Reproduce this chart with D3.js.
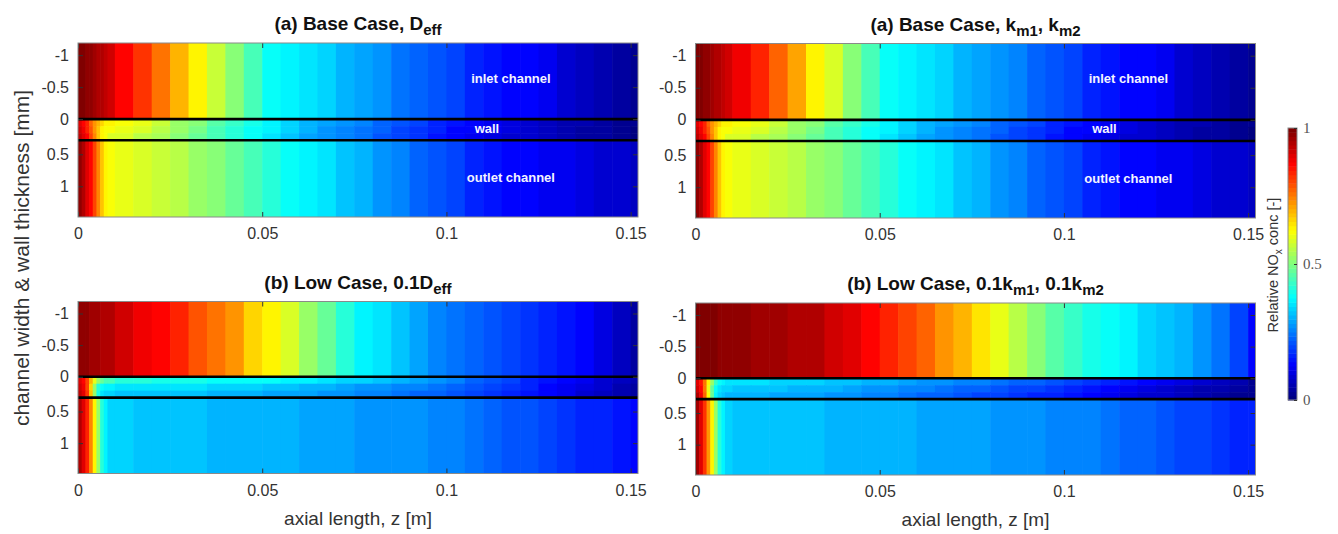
<!DOCTYPE html>
<html>
<head>
<meta charset="utf-8">
<script src="https://cdn.jsdelivr.net/npm/d3@7"></script>
<style>
  body { margin: 0; background: #fff; }
  text { font-family: "Liberation Sans", Arial, Helvetica, sans-serif; }
  .title { font-size: 19px; font-weight: bold; fill: #111; }
  .tick text { font-size: 16px; fill: #333; }
  .tick line { stroke: #333; }
  .cbar .tick text { font-family: "Liberation Serif", "Times New Roman", serif; font-size: 15px; fill: #555; }
  .axis-label { font-size: 19px; fill: #333; }
  .note { font-size: 13px; font-weight: bold; fill: #f4f4ff; }
</style>
</head>
<body>
<div id="chart"></div>
<script>
// ---------------- Data ----------------
// axial grid (cell edges, m): fine near the inlet, 5 mm further down
var zEdges = [0, 0.001, 0.002, 0.003, 0.004, 0.005, 0.006, 0.007, 0.008, 0.01,
  0.015, 0.02, 0.025, 0.03, 0.035, 0.04, 0.045, 0.05, 0.055, 0.06, 0.065, 0.07,
  0.075, 0.08, 0.085, 0.09, 0.095, 0.1, 0.105, 0.11, 0.115, 0.12, 0.125, 0.13,
  0.135, 0.14, 0.145, 0.15, 0.152];
// transverse bands (mm): inlet | wall (3 layers) | outlet
var yEdges = [-1.19, 0, 0.11, 0.22, 0.33, 1.53];
var wallLines = [0, 0.33];

var xTicks = [0, 0.05, 0.1, 0.15];
var xTickLabels = ["0", "0.05", "0.1", "0.15"];
var yTicks = [-1, -0.5, 0, 0.55, 1.05];
var yTickLabels = ["-1", "-0.5", "0", "0.5", "1"];
var cbTicks = [0, 0.5, 1];
var cbTickLabels = ["0", "0.5", "1"];

var noteText = ["inlet channel", "wall", "outlet channel"];
var noteZ = [0.1175, 0.111, 0.1175];
var noteY = [-0.64, 0.14, 0.92];

// (a) Base case, Deff
var baseD_inlet = [1.0, 0.99, 0.98, 0.97, 0.96, 0.95, 0.94, 0.93, 0.91, 0.87, 0.82, 0.76, 0.70, 0.63, 0.57, 0.50, 0.44, 0.38, 0.36, 0.345, 0.33, 0.31, 0.29, 0.27, 0.245, 0.23, 0.21, 0.19, 0.17, 0.155, 0.14, 0.125, 0.11, 0.09, 0.07, 0.05, 0.035, 0.02];
var baseD_wallTop = [0.9, 0.87, 0.83, 0.78, 0.73, 0.69, 0.66, 0.64, 0.63, 0.62, 0.6, 0.57, 0.53, 0.5, 0.46, 0.43, 0.4, 0.37, 0.34, 0.31, 0.29, 0.27, 0.25, 0.23, 0.21, 0.19, 0.17, 0.15, 0.13, 0.12, 0.1, 0.09, 0.075, 0.06, 0.05, 0.04, 0.03, 0.02];
var baseD_wallMid = [0.91, 0.88, 0.84, 0.79, 0.73, 0.68, 0.64, 0.62, 0.61, 0.6, 0.58, 0.55, 0.52, 0.49, 0.45, 0.42, 0.39, 0.36, 0.33, 0.3, 0.28, 0.26, 0.24, 0.22, 0.2, 0.18, 0.16, 0.14, 0.125, 0.11, 0.095, 0.08, 0.07, 0.055, 0.045, 0.035, 0.025, 0.015];
var baseD_wallBot = [0.93, 0.9, 0.86, 0.8, 0.74, 0.68, 0.64, 0.61, 0.59, 0.58, 0.56, 0.54, 0.51, 0.48, 0.44, 0.41, 0.38, 0.35, 0.32, 0.295, 0.275, 0.255, 0.235, 0.215, 0.195, 0.175, 0.155, 0.135, 0.12, 0.105, 0.09, 0.08, 0.065, 0.055, 0.045, 0.035, 0.025, 0.015];
var baseD_outlet = [0.97, 0.94, 0.9, 0.86, 0.8, 0.74, 0.68, 0.63, 0.62, 0.6, 0.58, 0.565, 0.55, 0.53, 0.51, 0.48, 0.45, 0.41, 0.38, 0.36, 0.345, 0.32, 0.3, 0.27, 0.25, 0.23, 0.21, 0.19, 0.17, 0.155, 0.14, 0.13, 0.12, 0.11, 0.1, 0.09, 0.08, 0.075];

// (a) Base case, km1, km2
var baseK_inlet = [1.0, 0.99, 0.98, 0.97, 0.96, 0.95, 0.94, 0.93, 0.915, 0.88, 0.83, 0.77, 0.71, 0.64, 0.58, 0.51, 0.45, 0.39, 0.36, 0.345, 0.33, 0.31, 0.29, 0.27, 0.25, 0.23, 0.21, 0.19, 0.17, 0.155, 0.14, 0.125, 0.11, 0.09, 0.07, 0.05, 0.035, 0.02];
var baseK_wallTop = [0.9, 0.87, 0.83, 0.78, 0.73, 0.69, 0.66, 0.64, 0.63, 0.62, 0.6, 0.57, 0.53, 0.5, 0.46, 0.43, 0.4, 0.37, 0.34, 0.31, 0.29, 0.27, 0.25, 0.23, 0.21, 0.19, 0.17, 0.15, 0.13, 0.12, 0.1, 0.09, 0.075, 0.06, 0.05, 0.04, 0.03, 0.02];
var baseK_wallMid = [0.91, 0.88, 0.84, 0.79, 0.73, 0.68, 0.64, 0.62, 0.61, 0.6, 0.58, 0.55, 0.52, 0.49, 0.45, 0.42, 0.39, 0.36, 0.33, 0.3, 0.28, 0.26, 0.24, 0.22, 0.2, 0.18, 0.16, 0.14, 0.125, 0.11, 0.095, 0.08, 0.07, 0.055, 0.045, 0.035, 0.025, 0.015];
var baseK_wallBot = [0.93, 0.9, 0.86, 0.8, 0.74, 0.68, 0.64, 0.61, 0.59, 0.58, 0.56, 0.54, 0.51, 0.48, 0.44, 0.41, 0.38, 0.35, 0.32, 0.295, 0.275, 0.255, 0.235, 0.215, 0.195, 0.175, 0.155, 0.135, 0.12, 0.105, 0.09, 0.08, 0.065, 0.055, 0.045, 0.035, 0.025, 0.015];
var baseK_outlet = [0.97, 0.94, 0.9, 0.86, 0.8, 0.74, 0.68, 0.63, 0.62, 0.6, 0.58, 0.565, 0.55, 0.53, 0.51, 0.48, 0.45, 0.41, 0.38, 0.36, 0.345, 0.32, 0.3, 0.27, 0.25, 0.23, 0.21, 0.19, 0.17, 0.155, 0.14, 0.13, 0.12, 0.11, 0.1, 0.09, 0.08, 0.075];

// (b) Low case, 0.1 Deff
var lowD_inlet = [0.98, 0.975, 0.97, 0.965, 0.96, 0.955, 0.95, 0.945, 0.94, 0.92, 0.89, 0.86, 0.83, 0.79, 0.76, 0.72, 0.67, 0.63, 0.58, 0.52, 0.47, 0.41, 0.37, 0.345, 0.315, 0.285, 0.26, 0.24, 0.22, 0.205, 0.19, 0.175, 0.16, 0.145, 0.125, 0.1, 0.07, 0.04];
var lowD_wallTop = [0.9, 0.87, 0.8, 0.7, 0.6, 0.52, 0.47, 0.45, 0.44, 0.42, 0.41, 0.4, 0.4, 0.395, 0.39, 0.385, 0.38, 0.375, 0.37, 0.36, 0.35, 0.34, 0.33, 0.315, 0.3, 0.285, 0.27, 0.25, 0.23, 0.21, 0.19, 0.17, 0.15, 0.13, 0.11, 0.09, 0.07, 0.05];
var lowD_wallMid = [0.92, 0.89, 0.8, 0.66, 0.52, 0.42, 0.38, 0.365, 0.36, 0.355, 0.35, 0.35, 0.345, 0.345, 0.34, 0.335, 0.33, 0.325, 0.32, 0.31, 0.3, 0.29, 0.28, 0.27, 0.26, 0.25, 0.24, 0.225, 0.21, 0.195, 0.18, 0.16, 0.14, 0.12, 0.1, 0.08, 0.06, 0.04];
var lowD_wallBot = [0.93, 0.9, 0.82, 0.68, 0.52, 0.4, 0.35, 0.335, 0.33, 0.325, 0.32, 0.32, 0.315, 0.315, 0.31, 0.305, 0.3, 0.295, 0.29, 0.285, 0.28, 0.27, 0.26, 0.25, 0.24, 0.23, 0.22, 0.205, 0.19, 0.175, 0.16, 0.145, 0.13, 0.11, 0.09, 0.075, 0.06, 0.045];
var lowD_outlet = [0.95, 0.9, 0.84, 0.74, 0.64, 0.52, 0.42, 0.36, 0.34, 0.33, 0.325, 0.32, 0.32, 0.315, 0.31, 0.31, 0.305, 0.3, 0.3, 0.295, 0.29, 0.285, 0.28, 0.275, 0.27, 0.27, 0.26, 0.25, 0.24, 0.225, 0.215, 0.205, 0.195, 0.18, 0.17, 0.16, 0.145, 0.135];

// (b) Low case, 0.1 km1, 0.1 km2
var lowK_inlet = [1.0, 0.995, 0.99, 0.99, 0.985, 0.985, 0.98, 0.98, 0.98, 0.97, 0.965, 0.955, 0.945, 0.94, 0.92, 0.9, 0.87, 0.84, 0.8, 0.77, 0.73, 0.69, 0.65, 0.6, 0.55, 0.5, 0.46, 0.43, 0.4, 0.38, 0.36, 0.34, 0.32, 0.3, 0.28, 0.24, 0.19, 0.14];
var lowK_wallTop = [0.9, 0.85, 0.76, 0.64, 0.52, 0.43, 0.38, 0.36, 0.355, 0.35, 0.345, 0.34, 0.335, 0.33, 0.325, 0.32, 0.31, 0.3, 0.29, 0.28, 0.27, 0.26, 0.25, 0.24, 0.23, 0.22, 0.205, 0.19, 0.175, 0.16, 0.145, 0.13, 0.115, 0.1, 0.085, 0.07, 0.05, 0.03];
var lowK_wallMid = [0.92, 0.86, 0.75, 0.6, 0.47, 0.38, 0.345, 0.335, 0.33, 0.325, 0.32, 0.315, 0.31, 0.305, 0.3, 0.29, 0.28, 0.27, 0.26, 0.25, 0.24, 0.23, 0.22, 0.21, 0.2, 0.19, 0.175, 0.16, 0.145, 0.13, 0.115, 0.1, 0.09, 0.075, 0.06, 0.05, 0.035, 0.02];
var lowK_wallBot = [0.94, 0.88, 0.77, 0.62, 0.48, 0.37, 0.33, 0.315, 0.31, 0.305, 0.3, 0.295, 0.29, 0.285, 0.28, 0.27, 0.26, 0.25, 0.24, 0.23, 0.22, 0.21, 0.2, 0.19, 0.18, 0.17, 0.16, 0.145, 0.13, 0.12, 0.105, 0.09, 0.08, 0.065, 0.055, 0.045, 0.03, 0.02];
var lowK_outlet = [0.96, 0.9, 0.82, 0.72, 0.63, 0.52, 0.42, 0.36, 0.335, 0.325, 0.32, 0.32, 0.315, 0.315, 0.31, 0.31, 0.305, 0.3, 0.3, 0.295, 0.29, 0.29, 0.285, 0.28, 0.275, 0.27, 0.265, 0.26, 0.25, 0.24, 0.23, 0.22, 0.21, 0.2, 0.19, 0.18, 0.17, 0.165];

// titles: plain text and subscripts
var titleBaseD = [["(a) Base Case, D", 0], ["eff", 1]];
var titleBaseK = [["(a) Base Case, k", 0], ["m1", 1], [", k", 0], ["m2", 1]];
var titleLowD = [["(b) Low Case, 0.1D", 0], ["eff", 1]];
var titleLowK = [["(b) Low Case, 0.1k", 0], ["m1", 1], [", 0.1k", 0], ["m2", 1]];

// ---------------- Layout ----------------
var svgWidth = 1338;
var svgHeight = 534;
var plotWidth = 560;

var svg = d3.select("#chart").append("svg")
            .attr("width", svgWidth)
            .attr("height", svgHeight);

var panels = [
  { title: titleBaseD, rows: [baseD_inlet, baseD_wallTop, baseD_wallMid, baseD_wallBot, baseD_outlet], left: 78, top: 43, height: 174, notes: true, xLabel: false },
  { title: titleBaseK, rows: [baseK_inlet, baseK_wallTop, baseK_wallMid, baseK_wallBot, baseK_outlet], left: 695.5, top: 43.5, height: 174.5, notes: true, xLabel: false },
  { title: titleLowD, rows: [lowD_inlet, lowD_wallTop, lowD_wallMid, lowD_wallBot, lowD_outlet], left: 78, top: 301.5, height: 172, notes: false, xLabel: true },
  { title: titleLowK, rows: [lowK_inlet, lowK_wallTop, lowK_wallMid, lowK_wallBot, lowK_outlet], left: 695.5, top: 303, height: 172, notes: false, xLabel: true }
];

// MATLAB-style jet colormap, 64 levels
function jet(t) {
  var r = Math.max(0, Math.min(1, 1.5 - Math.abs(4 * t - 3)));
  var g = Math.max(0, Math.min(1, 1.5 - Math.abs(4 * t - 2)));
  var b = Math.max(0, Math.min(1, 1.5 - Math.abs(4 * t - 1)));
  return d3.rgb(r * 255, g * 255, b * 255).formatHex();
}
var jetColors = d3.range(64).map(i => jet(i / 63));
var color = d3.scaleQuantize().domain([0, 1]).range(jetColors);

panels.forEach(function(p, pi) {
  var h = p.height;
  var xScale = d3.scaleLinear().domain([0, 0.152]).range([0, plotWidth]);
  var yScale = d3.scaleLinear().domain([yEdges[0], yEdges[yEdges.length - 1]]).range([0, h]);

  var g = svg.append("g").attr("transform", `translate(${p.left}, ${p.top})`);

  g.append("clipPath").attr("id", "clip" + pi)
   .append("rect").attr("width", plotWidth).attr("height", h);

  // flatten the rows into cells
  var cells = [];
  p.rows.forEach(function(row, r) {
    row.forEach(function(v, c) { cells.push({ r: r, c: c, v: v }); });
  });

  g.append("g").attr("clip-path", `url(#clip${pi})`)
   .selectAll("rect")
   .data(cells)
   .enter()
   .append("rect")
   .attr("x", d => xScale(zEdges[d.c]))
   .attr("y", d => yScale(yEdges[d.r]))
   .attr("width", d => xScale(zEdges[d.c + 1]) - xScale(zEdges[d.c]) + 0.6)
   .attr("height", d => yScale(yEdges[d.r + 1]) - yScale(yEdges[d.r]) + 0.6)
   .attr("fill", d => color(d.v));

  // wall boundaries
  g.selectAll(".wall-line")
   .data(wallLines)
   .enter()
   .append("line")
   .attr("class", "wall-line")
   .attr("x1", 0).attr("x2", plotWidth)
   .attr("y1", d => yScale(d)).attr("y2", d => yScale(d))
   .attr("stroke", "#000")
   .attr("stroke-width", 2.6);

  // labels inside the top panels
  if (p.notes) {
    g.selectAll(".note")
     .data(noteText)
     .enter()
     .append("text")
     .attr("class", "note")
     .attr("x", (d, i) => xScale(noteZ[i]))
     .attr("y", (d, i) => yScale(noteY[i]))
     .attr("text-anchor", "middle")
     .attr("dominant-baseline", "central")
     .text(d => d);
  }

  // axes, ticks pointing inwards like MATLAB
  g.append("g")
   .attr("transform", `translate(0, ${h})`)
   .call(d3.axisBottom(xScale).tickValues(xTicks).tickFormat((d, i) => xTickLabels[i]).tickSize(-5).tickPadding(11))
   .call(a => a.select(".domain").remove());
  g.append("g")
   .call(d3.axisTop(xScale).tickValues(xTicks).tickFormat("").tickSize(-5))
   .call(a => a.select(".domain").remove());
  g.append("g")
   .call(d3.axisLeft(yScale).tickValues(yTicks).tickFormat((d, i) => yTickLabels[i]).tickSize(-5).tickPadding(9))
   .call(a => a.select(".domain").remove());
  g.append("g")
   .attr("transform", `translate(${plotWidth}, 0)`)
   .call(d3.axisRight(yScale).tickValues(yTicks).tickFormat("").tickSize(-5))
   .call(a => a.select(".domain").remove());

  // axes box
  g.append("rect")
   .attr("width", plotWidth)
   .attr("height", h)
   .attr("fill", "none")
   .attr("stroke", "#8a8a8a")
   .attr("stroke-width", 1);

  // title with subscripts
  var title = svg.append("text")
                 .attr("class", "title")
                 .attr("x", p.left + plotWidth / 2)
                 .attr("y", p.top - 13)
                 .attr("text-anchor", "middle");
  var lowered = 0;
  p.title.forEach(function(part) {
    var shift = part[1] ? 5 : 0;
    title.append("tspan")
         .attr("dy", shift - lowered)
         .attr("font-size", part[1] ? "15px" : null)
         .text(part[0]);
    lowered = shift;
  });

  if (p.xLabel) {
    svg.append("text")
       .attr("class", "axis-label")
       .attr("x", p.left + plotWidth / 2)
       .attr("y", p.top + h + 51)
       .attr("text-anchor", "middle")
       .text("axial length, z [m]");
  }
});

// shared y axis title
svg.append("text")
   .attr("class", "axis-label")
   .attr("transform", "translate(29, 258) rotate(-90)")
   .attr("text-anchor", "middle")
   .style("font-size", "21px")
   .text("channel width & wall thickness [mm]");

// ---------------- Colorbar ----------------
var cbScale = d3.scaleLinear().domain([0, 1]).range([400, 128]);
var cbar = svg.append("g").attr("class", "cbar");

cbar.selectAll("rect")
    .data(jetColors)
    .enter()
    .append("rect")
    .attr("x", 1288)
    .attr("width", 9)
    .attr("y", (d, i) => cbScale((i + 1) / 64))
    .attr("height", cbScale(0) - cbScale(1 / 64) + 0.5)
    .attr("fill", d => d);

cbar.append("rect")
    .attr("x", 1288).attr("y", 128)
    .attr("width", 9).attr("height", 272)
    .attr("fill", "none")
    .attr("stroke", "#8a8a8a");

cbar.append("g")
    .attr("transform", "translate(1297, 0)")
    .call(d3.axisRight(cbScale).tickValues(cbTicks).tickFormat((d, i) => cbTickLabels[i]).tickSize(-3).tickPadding(6))
    .call(a => a.select(".domain").remove());

var cbLabel = svg.append("text")
                 .attr("class", "axis-label")
                 .attr("transform", "translate(1278, 265) rotate(-90)")
                 .attr("text-anchor", "middle")
                 .style("font-size", "14.5px");
cbLabel.append("tspan").text("Relative NO");
cbLabel.append("tspan").attr("dy", 4).style("font-size", "10px").text("x");
cbLabel.append("tspan").attr("dy", -4).text(" conc [-]");
</script>
</body>
</html>
